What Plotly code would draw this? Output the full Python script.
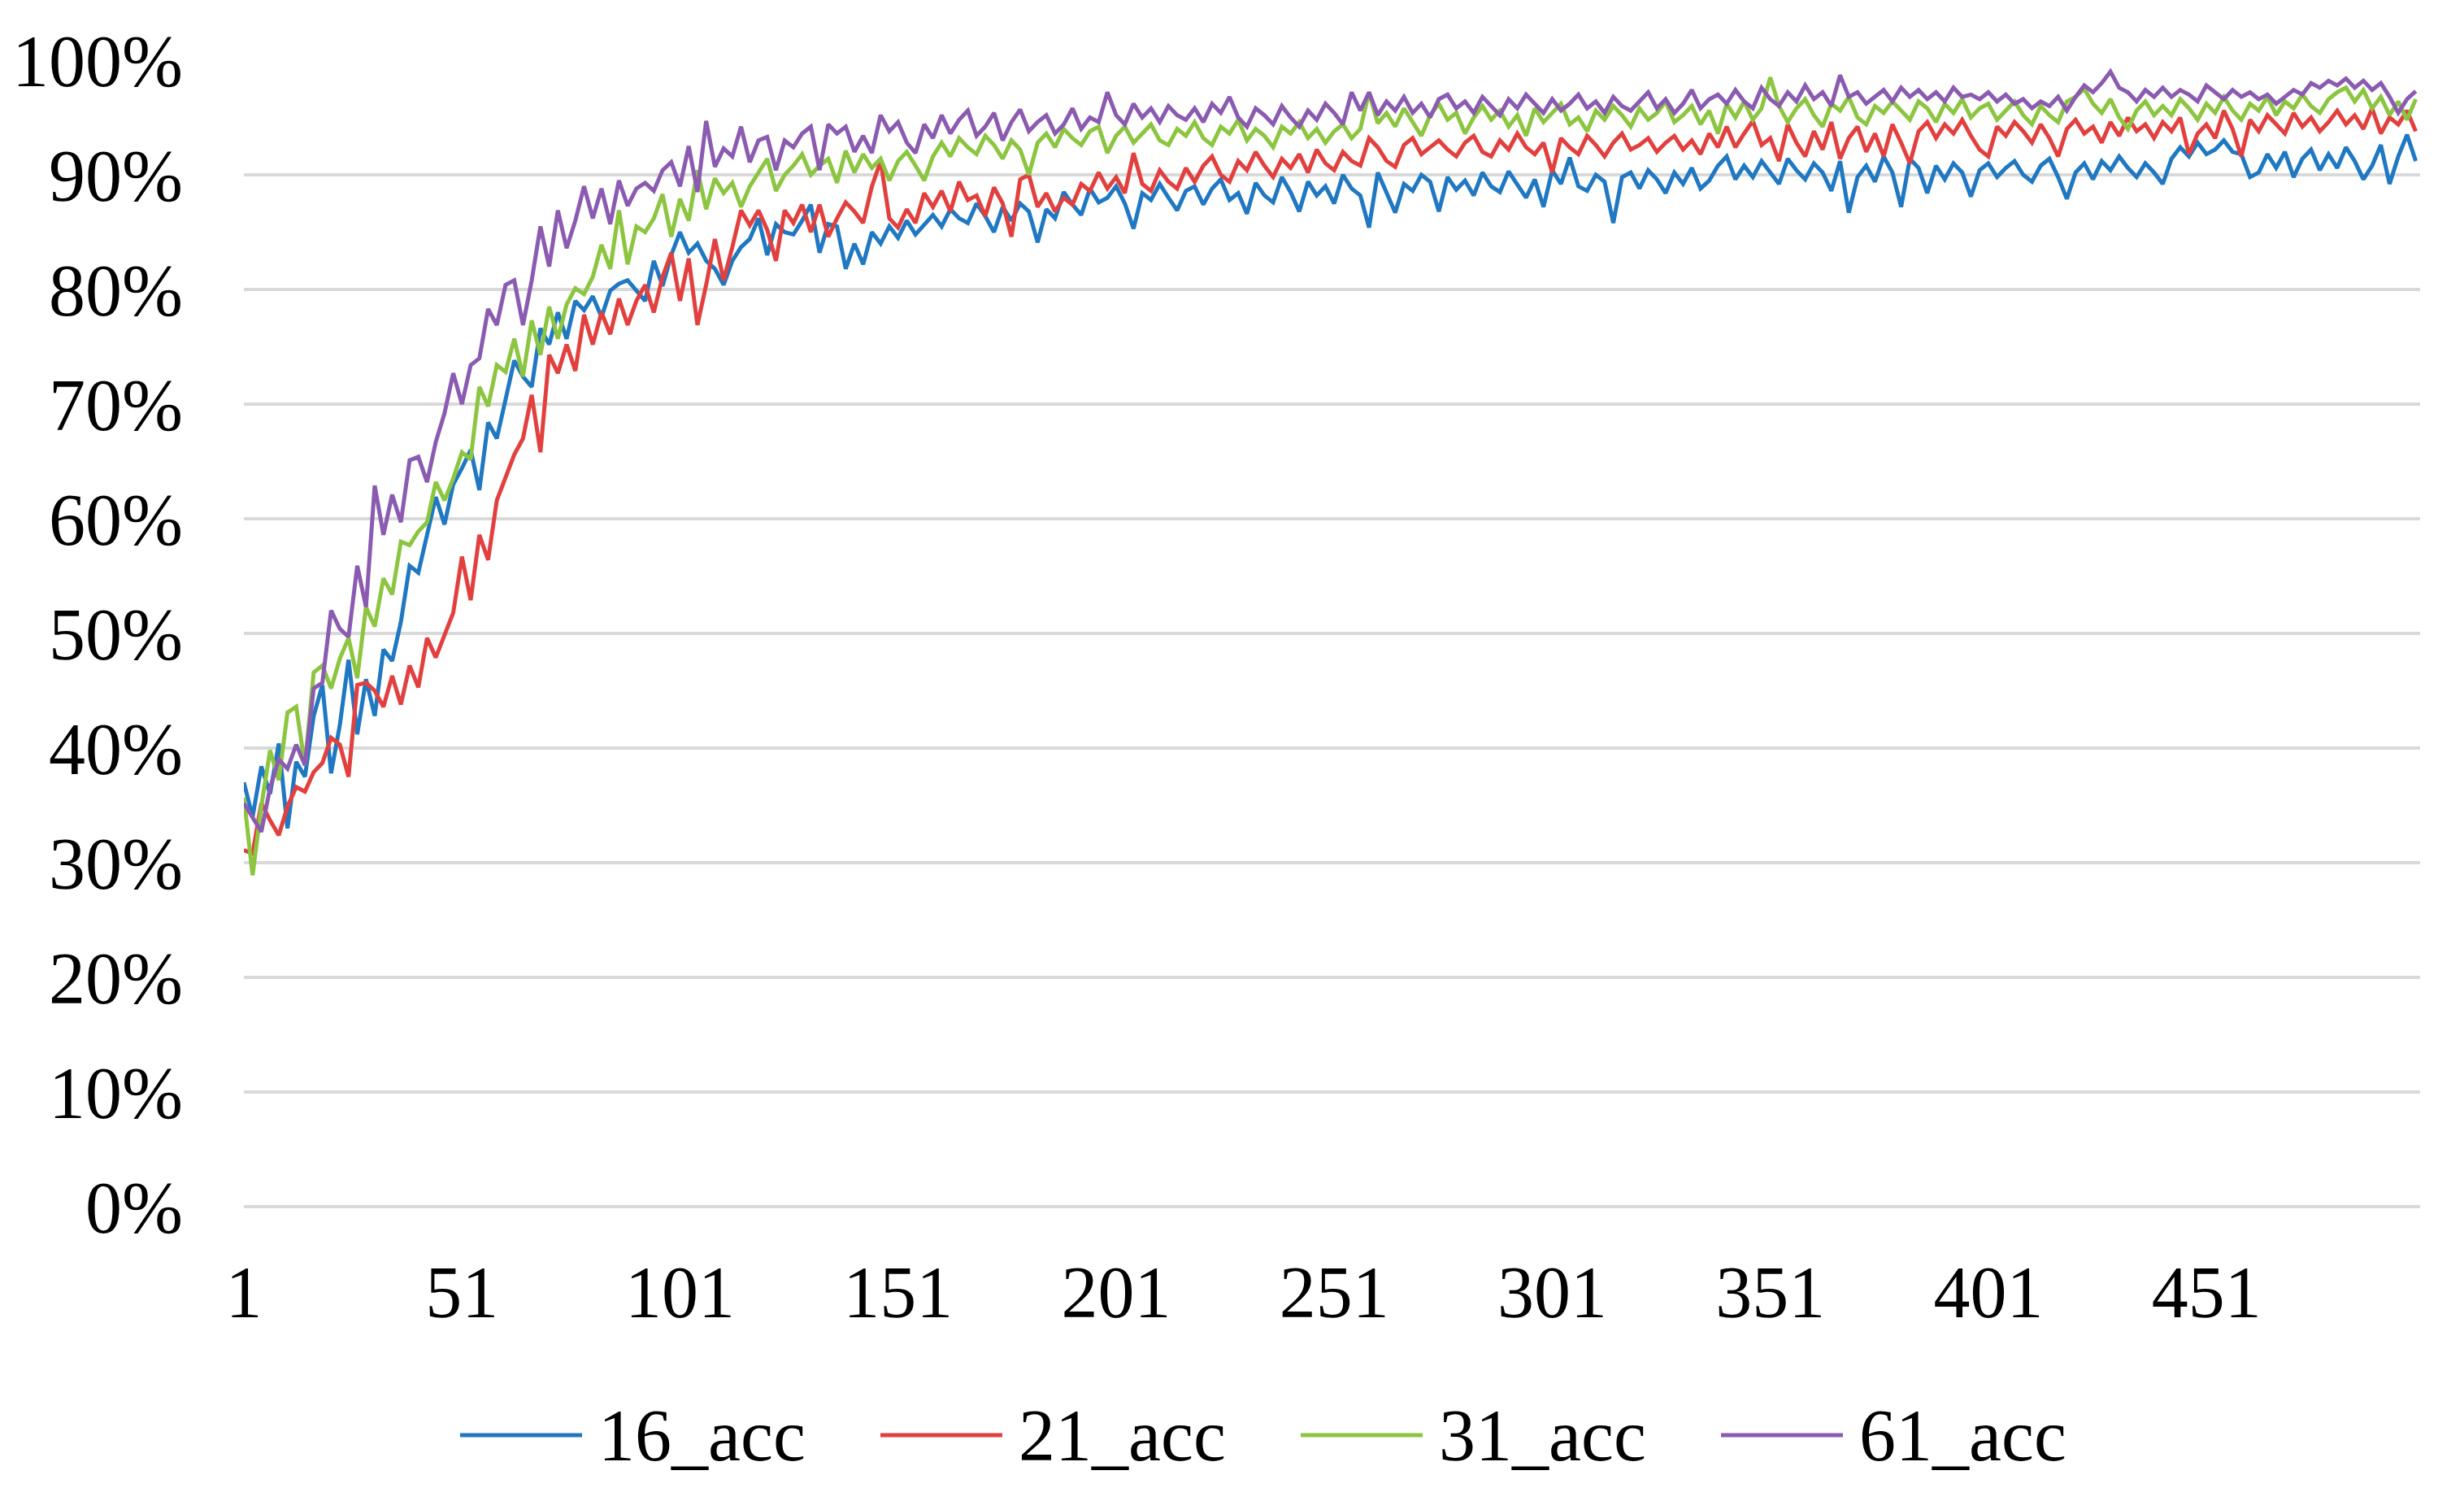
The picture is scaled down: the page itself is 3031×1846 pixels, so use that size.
import plotly.graph_objects as go

# accuracy per epoch (%), read every 2nd epoch off the chart
epochs = list(range(1, 500, 2))
names = ["16_acc", "21_acc", "31_acc", "61_acc"]
colors = ["#1f78c1", "#e2403f", "#8cc540", "#8a5bb0"]

acc_16 = [
    37, 34, 38.4, 36, 40.4, 33, 38.8, 37.5, 42.8, 45.5,
    37.8, 42, 47.7, 41.2, 46, 42.8, 48.6, 47.6, 51, 55.9,
    55.3, 58.6, 61.9, 59.5, 63, 64.4, 66, 62.5, 68.4, 67,
    70.3, 73.8, 72.4, 71.5, 76.6, 75.2, 78, 75.7, 79, 78.2,
    79.4, 77.6, 79.9, 80.5, 80.8, 79.9, 79, 82.5, 80.3, 83,
    85, 83.2, 84, 82.5, 81.8, 80.4, 82.5, 83.7, 84.4, 86.2,
    83, 85.7, 85, 84.8, 86, 87.4, 83.2, 85.7, 85.5, 81.8,
    84, 82.2, 85, 84, 85.5, 84.5, 86, 84.8, 85.6, 86.5,
    85.5, 87, 86.2, 85.8, 87.5, 86.4, 85, 87.2, 86, 87.5,
    86.8, 84.1, 87, 86.2, 88.5, 87.4, 86.5, 88.8, 87.6, 88,
    89, 87.5, 85.3, 88.4, 87.8, 89.2, 88, 86.9, 88.6, 89,
    87.4, 88.8, 89.6, 87.8, 88.4, 86.6, 89.3, 88.2, 87.6, 89.8,
    88.5, 86.8, 89.4, 88.2, 89, 87.5, 90, 88.8, 88.2, 85.4,
    90.2, 88.5, 86.7, 89.2, 88.6, 90, 89.4, 86.8, 89.8, 88.7,
    89.5, 88.2, 90.2, 89, 88.5, 90.3, 89.2, 88, 89.6, 87.2,
    90.4, 89.2, 91.5, 89, 88.6, 90, 89.4, 85.8, 89.8, 90.2,
    88.8, 90.4, 89.6, 88.4, 90.2, 89.2, 90.6, 88.8, 89.5, 90.8,
    91.6, 89.6, 90.8, 89.8, 91.2, 90.2, 89.2, 91.4, 90.4, 89.6,
    91, 90.2, 88.6, 91.2, 86.7, 89.8, 90.8, 89.4, 91.6, 90.2,
    87.2, 91.4, 90.6, 88.4, 90.8, 89.6, 91, 90.2, 88.1, 90.4,
    91, 89.8, 90.6, 91.2, 90, 89.4, 90.8, 91.4, 89.8, 87.9,
    90.2, 91, 89.6, 91.2, 90.4, 91.6, 90.6, 89.8, 91, 90.2,
    89.2, 91.4, 92.4, 91.6, 92.8, 91.8, 92.2, 93, 92, 91.8,
    89.8, 90.2, 91.8, 90.6, 92, 89.8, 91.4, 92.2, 90.4, 91.8,
    90.6, 92.4, 91.2, 89.6, 90.8, 92.6, 89.2, 91.6, 93.5, 91.2,
]

acc_21 = [
    31.1, 30.8, 35.2, 33.7, 32.4, 34.9, 36.6, 36.2, 37.9, 38.7,
    40.9, 40.3, 37.5, 45.5, 45.7, 45, 43.6, 46.3, 43.8, 47.2,
    45.3, 49.6, 47.9, 49.9, 51.8, 56.7, 52.9, 58.6, 56.4, 61.6,
    63.7, 65.6, 67, 70.8, 65.8, 74.3, 72.7, 75.2, 72.9, 77.8,
    75.2, 78, 76.1, 79.2, 76.9, 79, 80.4, 78, 81.1, 83.2,
    79, 82.7, 76.9, 80.4, 84.4, 80.8, 83.7, 86.9, 85.6, 86.9,
    85.2, 82.5, 86.9, 85.8, 87.4, 85, 87.4, 84.6, 86.2, 87.6,
    86.8, 85.8, 89, 91.2, 86.2, 85.4, 87, 85.8, 88.4, 87.2,
    88.6, 86.8, 89.4, 87.8, 88.2, 86.4, 88.9, 87.5, 84.6, 89.6,
    90, 87.2, 88.4, 86.8, 88, 87.4, 89.2, 88.6, 90.2, 88.8,
    89.8, 88.4, 91.9, 89.2, 88.6, 90.4, 89.4, 88.8, 90.6, 89.4,
    90.8, 91.6, 90, 89.4, 91.2, 90.4, 92, 90.8, 89.8, 91.4,
    90.6, 91.8, 90.2, 92.2, 91, 90.4, 92, 91.2, 90.8, 93.2,
    92.4, 91.2, 90.7, 92.6, 93.2, 91.8, 92.4, 93, 92.2, 91.6,
    92.8, 93.4, 92, 91.6, 93, 92.2, 93.6, 92.4, 91.8, 92.8,
    90.2, 93.2, 92.4, 91.8, 93.4, 92.6, 91.6, 92.8, 93.6, 92.2,
    92.6, 93.2, 92, 92.8, 93.4, 92.2, 93, 91.8, 93.6, 92.4,
    94.2, 92.4, 93.6, 94.7, 92.6, 93.2, 91.2, 94.4, 92.8, 91.6,
    93.8, 92.2, 94.6, 91.4, 93.2, 94.2, 92, 93.6, 91.6, 94.4,
    92.8, 91, 93.8, 94.6, 93.2, 94.4, 93.6, 94.8, 93.4, 92.2,
    91.6, 94.2, 93.4, 94.6, 93.8, 92.8, 94.4, 93.2, 91.6, 94,
    94.8, 93.6, 94.2, 92.8, 94.6, 93.4, 95, 93.8, 94.4, 93.2,
    94.6, 93.8, 95, 91.8, 93.6, 94.4, 93.2, 95.6, 94, 91.6,
    94.8, 93.8, 95.2, 94.4, 93.6, 95.4, 94.2, 95, 93.8, 94.6,
    95.6, 94.4, 95.2, 94, 95.8, 93.6, 95, 94.4, 95.6, 93.8,
]

acc_31 = [
    35.7, 28.9, 34.9, 39.8, 37.2, 43.1, 43.6, 38.5, 46.6, 47.2,
    45.2, 47.8, 49.6, 46.1, 52.3, 50.6, 54.8, 53.4, 58, 57.7,
    58.9, 59.7, 63.2, 61.6, 63.5, 65.8, 65.2, 71.5, 69.8, 73.4,
    72.8, 75.7, 72.4, 77.3, 74.3, 78.5, 75.7, 78.7, 80.1, 79.6,
    81.1, 83.9, 81.8, 86.9, 82.2, 85.5, 85, 86.2, 88.3, 84.6,
    87.9, 86, 90.4, 87, 89.7, 88.4, 89.3, 87.2, 89, 90.2,
    91.4, 88.6, 90, 90.8, 91.8, 90, 90.8, 91.4, 89.3, 92.1,
    90.2, 91.8, 90.6, 91.4, 89.5, 91.2, 92, 90.8, 89.5, 91.6,
    92.8, 91.6, 93.2, 92.4, 91.8, 93.4, 92.6, 91.4, 93, 92.2,
    90, 92.8, 93.6, 92.4, 94, 93.2, 92.6, 93.8, 94.2, 91.9,
    93.4, 94.2, 92.8, 93.6, 94.4, 93, 92.6, 94, 93.4, 94.6,
    93.2, 92.6, 94.2, 93.6, 94.8, 93, 94, 93.4, 92.4, 94.2,
    93.6, 94.6, 93.2, 94, 92.8, 93.8, 94.4, 93.2, 94, 97.2,
    94.5, 95.4, 94.2, 95.8, 94.6, 93.4, 95.2, 96.2, 94.8, 95.4,
    93.6, 95, 96, 94.8, 95.6, 94.2, 95.2, 93.4, 95.8, 94.6,
    95.4, 96.2, 94.4, 95, 93.8, 95.6, 94.8, 96, 95.2, 94.2,
    95.8, 94.8, 95.4, 96.4, 94.6, 95.2, 96, 94.4, 95.6, 93.6,
    96.2, 95, 96.4, 94.8, 95.8, 98.5, 96, 94.6, 95.8, 96.6,
    95.2, 94.2, 96.2, 95.6, 96.8, 95, 94.4, 96, 95.4, 96.4,
    95.6, 94.8, 96.4, 95.8, 94.6, 96.2, 95.4, 96.6, 95, 95.8,
    96.2, 94.8, 95.6, 96.4, 95.2, 94.4, 96, 95.2, 94.6, 96.4,
    96.8, 97.5, 96.2, 95.4, 96.6, 95, 94, 95.6, 96.4, 95.2,
    96, 95.2, 96.6, 95.8, 94.8, 96.2, 95.4, 96.8, 95.6, 94.8,
    96.2, 95.6, 96.8, 95.2, 96.4, 95.8, 97, 96, 95.4, 96.6,
    97.2, 97.6, 96.4, 97.4, 95.8, 96.8, 95.2, 96.4, 94.8, 96.6,
]

acc_61 = [
    35.2, 34, 32.7, 36.5, 39, 38.2, 40.3, 38.5, 45.2, 45.7,
    52, 50.4, 49.7, 55.9, 52.3, 62.9, 58.6, 62.1, 59.7, 65.1,
    65.4, 63.2, 66.7, 69.2, 72.7, 70, 73.4, 74, 78.3, 76.9,
    80.4, 80.8, 76.9, 80.8, 85.5, 82, 86.9, 83.6, 86, 89,
    86.2, 88.8, 85.7, 89.5, 87.3, 88.8, 89.3, 88.6, 90.4, 91.1,
    89, 92.5, 88.5, 94.7, 90.7, 92.3, 91.6, 94.2, 91.1, 93,
    93.3, 90.4, 93, 92.4, 93.6, 94.2, 90.4, 94.4, 93.6, 94.2,
    92, 93.4, 91.9, 95.2, 93.8, 94.6, 92.8, 91.9, 94.4, 93.2,
    95.2, 93.6, 94.8, 95.6, 93.4, 94.2, 95.4, 93, 94.6, 95.7,
    93.8, 94.6, 95.2, 93.6, 94.4, 95.8, 94, 95, 94.6, 97.2,
    95.2, 94.4, 96.2, 95, 95.8, 94.6, 96, 95.2, 94.8, 95.8,
    94.6, 96.2, 95.4, 96.8, 95, 94.2, 95.8, 95.2, 94.4, 96,
    95, 94.2, 95.6, 94.8, 96.2, 95.4, 94.4, 97.2, 95.6, 97.2,
    95.2, 96.4, 95.6, 96.8, 95.4, 96.2, 95, 96.6, 97, 95.8,
    96.4, 95.4, 96.8, 96, 95.2, 96.6, 95.8, 97, 96.2, 95.4,
    96.6, 95.6, 96.2, 97, 95.8, 96.4, 95.4, 96.8, 96, 95.6,
    96.4, 97.2, 95.8, 96.6, 95.4, 96.2, 97.4, 95.8, 96.6, 97,
    96.2, 97.4, 96.4, 95.8, 97.6, 96.6, 96, 97.2, 96.4, 97.8,
    96.6, 97.2, 96, 98.7, 96.8, 97.2, 96.2, 96.8, 97.4, 96.4,
    97.6, 96.8, 97.4, 96.6, 97.2, 96.4, 97.6, 96.8, 97, 96.6,
    97.2, 96.4, 97, 96.2, 96.6, 95.8, 96.4, 96, 96.8, 95.6,
    96.8, 97.8, 97.2, 98, 99, 97.6, 97.2, 96.4, 97.4, 96.8,
    97.6, 96.8, 97.4, 97, 96.4, 97.8, 97.2, 96.6, 97.4, 96.8,
    97.2, 96.6, 97, 96.2, 96.8, 97.4, 97, 98, 97.6, 98.2,
    97.8, 98.4, 97.6, 98.2, 97.4, 98, 96.8, 95.4, 96.6, 97.3,
]

x_ticks = [1, 51, 101, 151, 201, 251, 301, 351, 401, 451]

# page / plot area in pixels
W, H = 3031, 1846
L, R, T, B = 300, 54, 74, 362
pw = W - L - R
ph = H - T - B

font = dict(family="Liberation Serif, Times New Roman, serif", size=90, color="black")

fig = go.Figure()
for name, ys, color in zip(names, [acc_16, acc_21, acc_31, acc_61], colors):
    fig.add_trace(go.Scatter(x=epochs, y=ys, mode="lines", name=name,
                             line=dict(color=color, width=5)))

# legend drawn by hand so the line samples are long like the original
shapes, annotations = [], []
for i, (name, color) in enumerate(zip(names, colors)):
    x0 = 566 + 517 * i
    ly = 1765
    shapes.append(dict(type="line", xref="paper", yref="paper",
                       x0=(x0 - L) / pw, x1=(x0 + 150 - L) / pw,
                       y0=(H - B - ly) / ph, y1=(H - B - ly) / ph,
                       line=dict(color=color, width=5)))
    annotations.append(dict(xref="paper", yref="paper", x=(x0 + 168 - L) / pw,
                            y=(H - B - ly) / ph, xanchor="left", yanchor="middle",
                            text=name, showarrow=False, font=font))

fig.update_layout(
    width=W, height=H,
    margin=dict(l=L, r=R, t=T, b=B),
    paper_bgcolor="white", plot_bgcolor="white",
    showlegend=False,
    font=font,
    shapes=shapes,
    annotations=annotations,
)
fig.update_xaxes(range=[1, 500], tickmode="array", tickvals=x_ticks,
                 ticktext=[str(t) for t in x_ticks], showgrid=False,
                 zeroline=False, showline=False, ticks="",
                 ticklabelstandoff=45, tickfont=font)
fig.update_yaxes(range=[0, 100], dtick=10, ticksuffix="%", showgrid=True,
                 gridcolor="#d9d9d9", gridwidth=4, zeroline=True,
                 zerolinecolor="#d9d9d9", zerolinewidth=4, showline=False,
                 ticks="", ticklabelstandoff=74, tickfont=font)

fig.write_html("out.html", config={"displayModeBar": False},
               post_script="document.body.style.margin='0';")
